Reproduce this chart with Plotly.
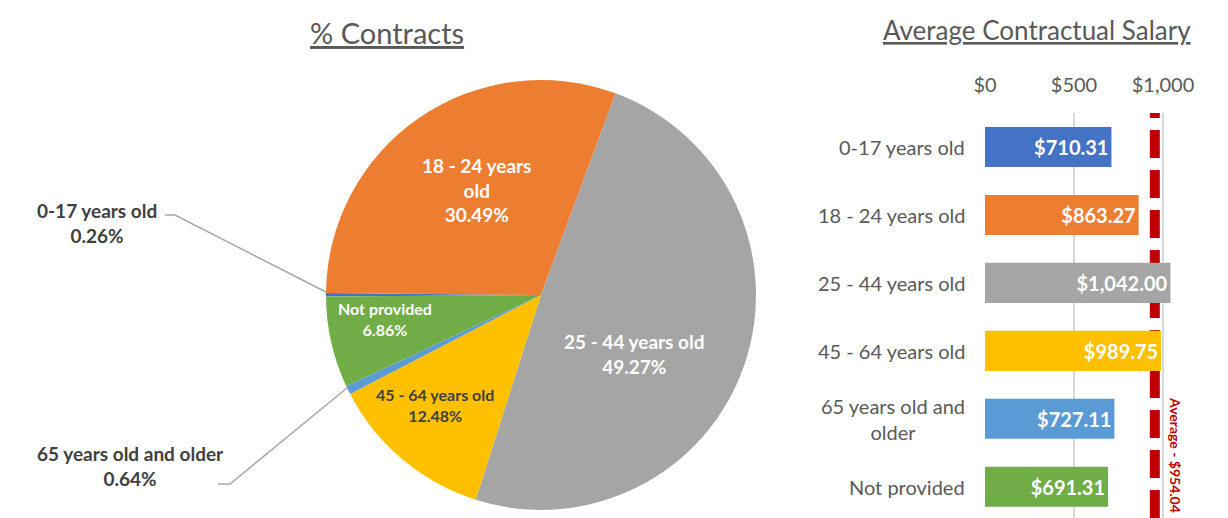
import plotly.graph_objects as go

# ---- data ----
categories = ["0-17 years old", "18 - 24 years old", "25 - 44 years old",
              "45 - 64 years old", "65 years old and older", "Not provided"]
bar_labels = ["0-17 years old", "18 - 24 years old", "25 - 44 years old",
              "45 - 64 years old", "65 years old and<br>older", "Not provided"]
pct_contracts = [0.26, 30.49, 49.27, 12.48, 0.64, 6.86]
avg_salary = [710.31, 863.27, 1042.00, 989.75, 727.11, 691.31]
overall_avg = 954.04
salary_ticks = [0, 500, 1000]
salary_tick_text = ["$0", "$500", "$1,000"]
colors = ["#4472C4", "#ED7D31", "#A5A5A5", "#FFC000", "#5B9BD5", "#70AD47"]

W, H = 1228, 518
FONT = "Lato"
GREY_TXT = "#595959"
DARK_TXT = "#404040"


def px(x):
    return x / W


def py(y):
    return 1 - y / H


fig = go.Figure()

# ---- pie ----
fig.add_trace(go.Pie(
    labels=categories, values=pct_contracts,
    marker=dict(colors=colors, line=dict(width=0)),
    sort=False, direction="clockwise", rotation=-90.4,
    textinfo="none", hoverinfo="label+percent",
    domain=dict(x=[px(326), px(756)], y=[py(510), py(80)]),
    showlegend=False,
))

# ---- bars ----
fig.add_trace(go.Bar(
    y=categories, x=avg_salary, orientation="h",
    marker=dict(color=colors, line=dict(width=0)),
    width=0.59,
    text=[f"${v:,.2f}" for v in avg_salary],
    textposition="inside", insidetextanchor="end",
    textfont=dict(family=FONT, size=20, color="white", weight="bold"),
    cliponaxis=False, showlegend=False,
    xaxis="x", yaxis="y",
))

annotations = []
# titles
annotations.append(dict(text="<u>% Contracts</u>", x=px(387), y=py(33), xref="paper", yref="paper",
                        xanchor="center", yanchor="middle", showarrow=False,
                        font=dict(family=FONT, size=29, color=GREY_TXT)))
annotations.append(dict(text="<u>Average Contractual Salary</u>", x=px(1037), y=py(30), xref="paper",
                        yref="paper", xanchor="center", yanchor="middle", showarrow=False,
                        font=dict(family=FONT, size=26, color=GREY_TXT)))

# pie labels
def pct(i):
    return f"{pct_contracts[i]:.2f}%"

pie_labels = [
    ("0-17 years old<br>" + pct(0), 97, 223, DARK_TXT, 19),
    ("18 - 24 years<br>old<br>" + pct(1), 476, 190, "white", 19),
    ("25 - 44 years old<br>" + pct(2), 634, 354, "white", 19),
    ("45 - 64 years old<br>" + pct(3), 435, 405, DARK_TXT, 16),
    ("65 years old and older<br>" + pct(4), 130, 466, DARK_TXT, 19),
    ("Not provided<br>" + pct(5), 385, 319, "white", 16),
]
for t, x, y, c, s in pie_labels:
    annotations.append(dict(text=t, x=px(x), y=py(y), xref="paper", yref="paper", showarrow=False,
                            xanchor="center", yanchor="middle", align="center",
                            font=dict(family=FONT, size=s, color=c, weight="bold")))

# bar category labels
for i, lab in enumerate(bar_labels):
    annotations.append(dict(text=lab, x=px(967), xref="paper", y=categories[i], yref="y",
                            xanchor="right", yanchor="middle", showarrow=False, align="center",
                            font=dict(family=FONT, size=20, color=GREY_TXT)))

# average label
annotations.append(dict(text=f"Average - ${overall_avg:,.2f}", x=px(1176), y=py(455), xref="paper",
                        yref="paper", xanchor="center", yanchor="middle", textangle=90, showarrow=False,
                        font=dict(family=FONT, size=14, color="#C00000", weight="bold")))

shapes = [
    # leader lines
    dict(type="path", path=f"M {px(165)} {py(215)} L {px(175)} {py(215)} L {px(326)} {py(292)}",
         xref="paper", yref="paper", line=dict(color="#A6A6A6", width=1.5)),
    dict(type="path", path=f"M {px(218)} {py(484)} L {px(230)} {py(484)} L {px(347)} {py(388)}",
         xref="paper", yref="paper", line=dict(color="#A6A6A6", width=1.5)),
    # average line
    dict(type="line", x0=overall_avg, x1=overall_avg, xref="x", y0=0, y1=1, yref="y domain",
         layer="below", line=dict(color="#C00000", width=10, dash="28px,12px")),
]

fig.update_layout(
    width=W, height=H,
    margin=dict(l=0, r=0, t=0, b=0, autoexpand=False),
    paper_bgcolor="white", plot_bgcolor="white",
    font=dict(family=FONT, color=GREY_TXT),
    xaxis=dict(domain=[px(985), px(1198.6)], range=[0, 1200], side="top",
               tickvals=salary_ticks, ticktext=salary_tick_text,
               tickfont=dict(family=FONT, size=20, color=GREY_TXT),
               showgrid=True, gridcolor="#D9D9D9", gridwidth=1.5,
               zeroline=False, showline=False, ticks="", ticklabelstandoff=16,
               automargin=False),
    yaxis=dict(domain=[0, py(113)], range=[5.46, -0.5], showticklabels=False,
               showgrid=False, zeroline=False, showline=False, ticks="", automargin=False),
    annotations=annotations,
    shapes=shapes,
)

fig.write_html("out.html", config={"displayModeBar": False},
               post_script="document.body.style.margin='0';")
